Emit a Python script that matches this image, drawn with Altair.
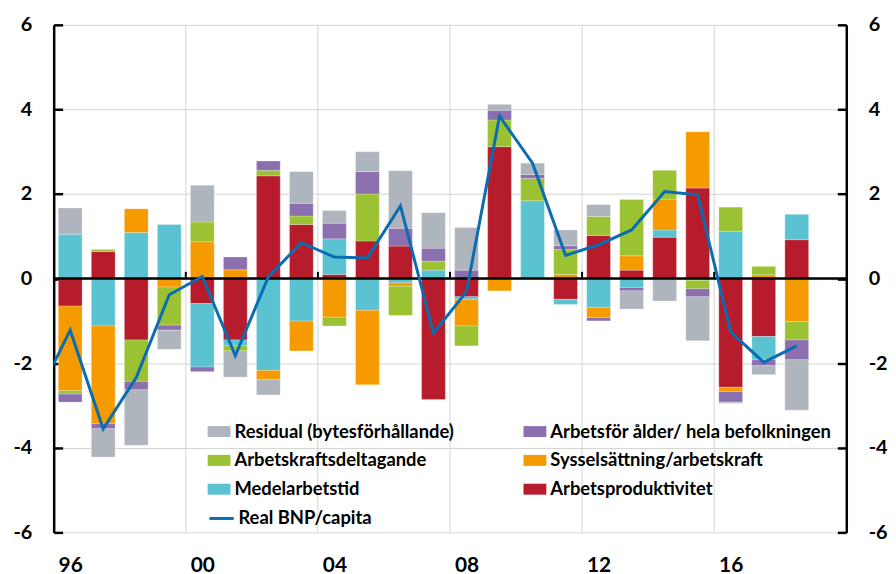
import altair as alt
import pandas as pd

# ---------------- data ----------------
years = list(range(1996, 2019))
arbetsproduktivitet = [-0.65, 0.64, -1.45, 0.00, -0.59, -1.45, 2.43, 1.28, 0.10, 0.89, 0.77, -2.86,
                       -0.43, 3.12, 0.00, -0.49, 1.02, 0.20, 0.98, 2.14, -2.57, -1.37, 0.92]
medelarbetstid = [1.05, -1.12, 1.09, 1.28, -1.50, -0.14, -2.17, -1.00, 0.84, -0.75, -0.10, 0.20,
                  -0.06, 0.00, 1.84, -0.12, -0.68, -0.21, 0.17, -0.04, 1.12, -0.55, 0.60]
sysselsattning = [-2.00, -2.31, 0.56, -0.20, 0.87, 0.21, -0.22, -0.71, -0.91, -1.76, -0.08, 0.00,
                  -0.63, -0.29, 0.00, 0.10, -0.24, 0.34, 0.73, 1.33, -0.10, 0.09, -1.02]
arbetskraftsdeltagande = [-0.08, 0.05, -0.98, -0.90, 0.47, -0.12, 0.13, 0.20, -0.21, 1.11, -0.69, 0.21,
                          -0.47, 0.63, 0.53, 0.59, 0.45, 1.33, 0.68, -0.20, 0.57, 0.20, -0.43]
arbetsfor_alder = [-0.19, -0.12, -0.20, -0.12, -0.11, 0.30, 0.22, 0.30, 0.37, 0.53, 0.42, 0.31,
                   0.20, 0.23, 0.09, 0.09, -0.08, -0.08, 0.00, -0.19, -0.25, -0.14, -0.47]
residual = [0.62, -0.67, -1.31, -0.45, 0.87, -0.62, -0.36, 0.75, 0.30, 0.47, 1.36, 0.84,
            1.01, 0.14, 0.27, 0.37, 0.28, -0.43, -0.53, -1.04, -0.03, -0.21, -1.19]

bnp_years = list(range(1995, 2019))
real_bnp_capita = [-2.80, -1.22, -3.55, -2.34, -0.38, 0.05, -1.82, 0.04, 0.85, 0.51, 0.49, 1.72,
                   -1.29, -0.31, 3.84, 2.73, 0.55, 0.80, 1.15, 2.06, 1.98, -1.26, -1.98, -1.59]

label_years = [1996, 2000, 2004, 2008, 2012, 2016]
y_ticks = [-6, -4, -2, 0, 2, 4, 6]

series_names = ["Arbetsproduktivitet", "Medelarbetstid", "Sysselsättning/arbetskraft",
                "Arbetskraftsdeltagande", "Arbetsför ålder/ hela befolkningen",
                "Residual (bytesförhållande)"]
series_values = [arbetsproduktivitet, medelarbetstid, sysselsattning,
                 arbetskraftsdeltagande, arbetsfor_alder, residual]
series_colors = ["#B71C2C", "#5BC2D2", "#F59B00", "#9AC232", "#8C6FAF", "#AFB5BD"]
line_name = "Real BNP/capita"
line_color = "#0A6DB2"

# legend is filled column by column: left column, then right column
legend_idx = [5, 3, 1, 4, 2, 0]
legend_order = [series_names[i] for i in legend_idx]
legend_colors = [series_colors[i] for i in legend_idx]

rows = []
for k, (name, vals) in enumerate(zip(series_names, series_values)):
    for yr, v in zip(years, vals):
        rows.append({"year": yr, "series": name, "idx": k, "value": v})
bars_df = pd.DataFrame(rows)
line_df = pd.DataFrame({"year": bnp_years, "value": real_bnp_capita, "series": line_name})
bounds_df = pd.DataFrame({"year": [yr - 0.5 for yr in label_years[1:]]})
zero_df = pd.DataFrame({"z": [0]})

# ---------------- styling ----------------
FONT = "Lato"
GRID = "#D4D4D4"
xs = alt.Scale(domain=[1995.5, 2019.5], nice=False, zero=False)
ys = alt.Scale(domain=[-6, 6], nice=False, zero=False)

x_axis = alt.Axis(orient="bottom", values=label_years,
                  labelExpr="substring(toString(datum.value), 2)",
                  domain=False, ticks=False, grid=False, labelFontSize=21, labelPadding=22,
                  labelFont=FONT, labelFontWeight="bold", labelColor="black", title=None)

def main_axis(orient, grid):
    return alt.Axis(orient=orient, values=y_ticks, labelExpr="toString(datum.value)",
                    domain=True, domainColor="black", domainWidth=2.5, ticks=False,
                    grid=grid, gridColor=GRID, gridWidth=1, labelFontSize=20, labelPadding=22,
                    labelFont=FONT, labelFontWeight="bold", labelColor="black", title=None)

def tick_axis(orient):
    return alt.Axis(orient=orient, values=y_ticks, domain=False, labels=False, grid=False,
                    ticks=True, tickSize=9, tickWidth=2.5, tickColor="black", offset=-9,
                    title=None)

bar_path = "M-1,-0.48H1V0.48H-1Z"

grid_v = alt.Chart(bounds_df).mark_rule(color=GRID, strokeWidth=1).encode(
    x=alt.X("year:Q", scale=xs, axis=x_axis)
)

bars = (
    alt.Chart(bars_df)
    .transform_filter("datum.value != 0")
    .transform_stack(stack="value", groupby=["year"], as_=["v0", "v1"], offset="zero",
                     sort=[alt.SortField("idx", order="ascending")])
    .transform_calculate(xa="datum.year - 0.36", xb="datum.year + 0.36")
    .mark_rect(stroke="white", strokeWidth=0.5, strokeOpacity=0.5)
    .encode(
        x=alt.X("xa:Q", scale=xs, axis=x_axis),
        x2="xb:Q",
        y=alt.Y("v0:Q", scale=ys, axis=main_axis("left", True)),
        y2="v1:Q",
        fill=alt.Fill("series:N", scale=alt.Scale(domain=legend_order, range=legend_colors),
                      legend=alt.Legend(title=None, orient="none", legendX=155, legendY=398,
                                        columns=2, symbolType=bar_path, symbolSize=529,
                                        symbolStrokeWidth=0, labelFontSize=18.5, labelFont=FONT,
                                        labelFontWeight="bold", labelColor="black",
                                        labelLimit=500, labelOffset=4, rowPadding=8,
                                        columnPadding=69, padding=0)),
    )
)

zero_rule = alt.Chart(zero_df).mark_rule(color="black", strokeWidth=2.5).encode(
    y=alt.Y("z:Q", scale=ys, axis=tick_axis("left"))
)

zero_ticks = (
    alt.Chart(bounds_df)
    .transform_calculate(z="0", zt="0.16")
    .mark_rule(color="black", strokeWidth=2)
    .encode(
        x=alt.X("year:Q", scale=xs, axis=x_axis),
        y=alt.Y("z:Q", scale=ys, axis=tick_axis("right")),
        y2="zt:Q",
    )
)

line = alt.Chart(line_df).mark_line(clip=True, strokeWidth=3).encode(
    x=alt.X("year:Q", scale=xs, axis=x_axis),
    y=alt.Y("value:Q", scale=ys, axis=main_axis("right", False)),
    stroke=alt.Stroke("series:N", scale=alt.Scale(domain=[line_name], range=[line_color]),
                      legend=alt.Legend(title=None, orient="none", legendX=155, legendY=483,
                                        symbolType="stroke", symbolSize=600,
                                        symbolStrokeWidth=3, labelFontSize=18.5, labelFont=FONT,
                                        labelFontWeight="bold", labelColor="black",
                                        labelLimit=500, labelOffset=3, padding=0)),
)

chart = (
    alt.layer(grid_v, bars, zero_rule, zero_ticks, line)
    .resolve_scale(x="shared", y="shared")
    .resolve_axis(y="independent")
    .properties(width=798, height=511, autosize=alt.AutoSizeParams(type="none"),
                padding={"left": 46, "top": 15, "right": 42, "bottom": 48})
    .configure_view(stroke=None)
)

chart.save("out.html", embed_options={"renderer": "svg", "actions": False})
